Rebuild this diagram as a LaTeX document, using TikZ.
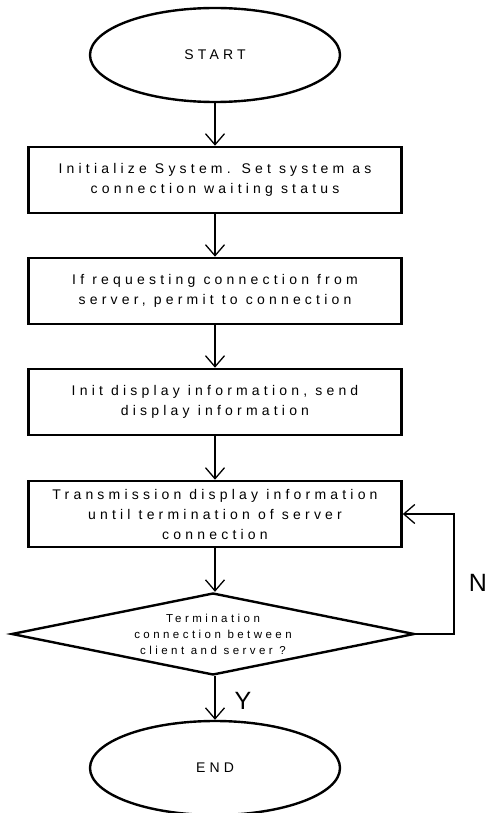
\documentclass[tikz,border=0pt]{standalone}
\usepackage{fontspec}
\setmainfont{Liberation Sans}
\newfontfamily\spaced[LetterSpace=30]{Liberation Sans}
\usetikzlibrary{shapes.geometric,arrows.meta}
\begin{document}
\begin{tikzpicture}[x=1pt,y=1pt,
  box/.style={draw,line width=2.6pt,rectangle,minimum width=373pt,minimum height=66pt,inner sep=0pt,align=center,font=\spaced\fontsize{14}{20}\selectfont},
  term/.style={draw,line width=2.4pt,ellipse,minimum width=250pt,minimum height=94pt,inner sep=0pt,font=\spaced\fontsize{14}{20}\selectfont},
  dec/.style={draw,line width=2.4pt,diamond,aspect=4.9,minimum width=403pt,minimum height=82pt,inner sep=0pt,align=center,font=\spaced\fontsize{11.5}{16}\selectfont},
  arr/.style={line width=1.3pt,-{Straight Barb[length=11pt,width=19pt,line width=1.3pt]}},
  lab/.style={font=\fontsize{25}{25}\selectfont}]
\useasboundingbox (0,0) rectangle (491,-813);
\node[term] (start) at (215,-55) {START};
\node[box] (b1) at (215,-180) {Initialize System. Set system as\\connection waiting status};
\node[box] (b2) at (215,-291) {If requesting connection from\\server, permit to connection};
\node[box] (b3) at (215,-402) {Init display information, send\\display information};
\node[box] (b4) at (215,-514) {Transmission display information\\until termination of server\\connection};
\node[dec] (d) at (213,-634) {Termination\\connection between\\client and server ?};
\node[term] (end) at (215,-768) {END};
\coordinate (lp) at (454,-600);
\draw[arr] (start) -- (b1);
\draw[arr] (b1) -- (b2);
\draw[arr] (b2) -- (b3);
\draw[arr] (b3) -- (b4);
\draw[arr] (b4.south) -- (d.north -| b4.south);
\draw[arr] (d.south -| end.north) -- (end.north);
\draw[arr] (d.east) -| (lp) |- (b4.east);
\node[lab] (N) at (478,-583) {N};
\node[lab] (Y) at (243,-701) {Y};
\end{tikzpicture}
\end{document}
